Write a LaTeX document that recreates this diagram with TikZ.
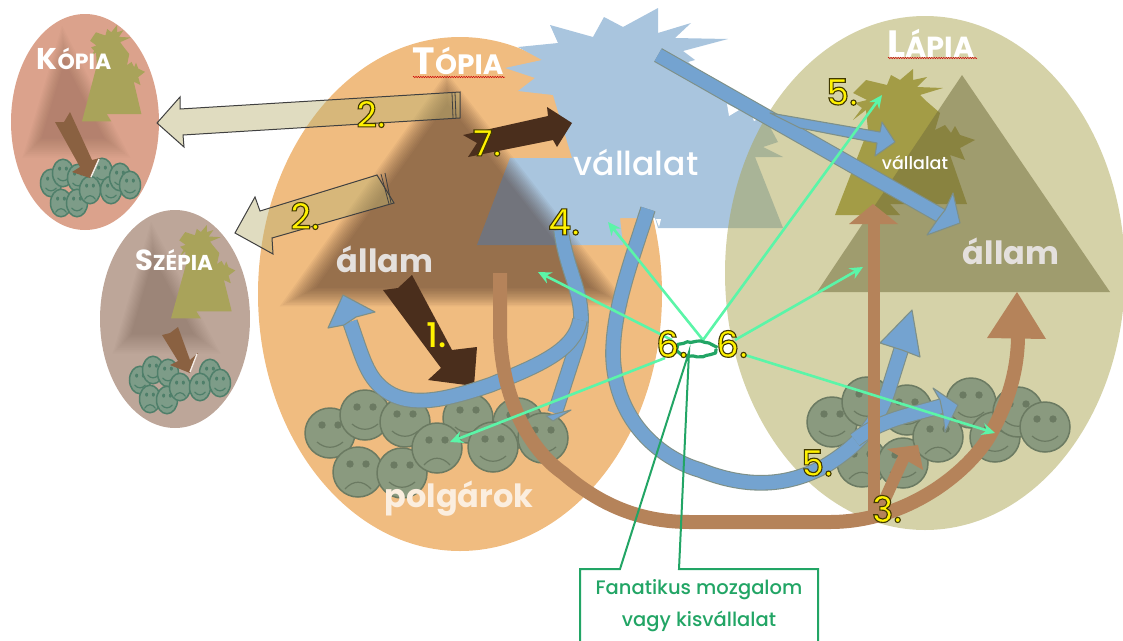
\documentclass[tikz,border=0pt]{standalone}
\usepackage{fontspec}
\setmainfont{Poppins}
\newfontfamily\pmed{Poppins Medium}
\usetikzlibrary{calc,arrows.meta,decorations.pathmorphing}
\definecolor{cOrange}{HTML}{F0BC80}
\definecolor{cKhaki}{HTML}{A9A34E}
\definecolor{cKop}{HTML}{DBA28C}
\definecolor{cSze}{HTML}{BDA699}
\definecolor{cBlue}{HTML}{A9C5DE}
\definecolor{cBand}{HTML}{74A3D0}
\definecolor{cBandE}{HTML}{7E9088}
\definecolor{cBrown}{HTML}{B5835A}
\definecolor{cDark}{HTML}{4A2E1C}
\definecolor{cSoft}{HTML}{442A20}
\definecolor{cOlive}{HTML}{A39C46}
\definecolor{cOliveS}{HTML}{A9A35A}
\definecolor{cState}{HTML}{736E3C}
\definecolor{cFace}{HTML}{8A9A7F}
\definecolor{cFaceE}{HTML}{6B7A62}
\definecolor{cFaceS}{HTML}{7D9C88}
\definecolor{cFaceSE}{HTML}{4F7F6A}
\definecolor{cTan}{HTML}{BAB273}
\definecolor{cGreen}{HTML}{5BF5A8}
\definecolor{cCall}{HTML}{22A565}
\newcommand{\fsz}[1]{\fontsize{#1}{#1}\selectfont}
\newcommand{\numlab}[1]{\special{pdf:code q 2 Tr 1.1 w 0.25 0.22 0 RG}#1\special{pdf:code Q}}
% x y xscale yscale fill edge mouth(1 smile / 0 sad)
\newcommand{\face}[7]{%
  \begin{scope}[shift={(#1,#2)},xscale=#3,yscale=#4]
    \fill[#5] (0,0) circle [radius=25];
    \draw[#6,line width=1.5pt] (0,0) circle [radius=25];
    \fill[#6] (-8,-8) circle [radius=3.7];
    \fill[#6] (8,-8) circle [radius=3.7];
    \ifnum#7=1
      \draw[#6,line width=1.2pt] (-13,9) .. controls (-5,16) and (5,16) .. (13,9);
    \else
      \draw[#6,line width=1.2pt] (-13,17) .. controls (-5,8) and (5,8) .. (13,17);
    \fi
  \end{scope}}
\newcommand{\bigface}[3]{\face{#1}{#2}{1}{1}{cFace}{cFaceE}{#3}}
\newcommand{\smallface}[3]{\face{#1}{#2}{.42}{.55}{cFaceS}{cFaceSE}{#3}}
% A B C incentre lo next hi opacity
\newcommand{\softtri}[8]{%
  \coordinate (tA) at #1; \coordinate (tB) at #2; \coordinate (tC) at #3; \coordinate (tI) at #4;
  \foreach \s in {#5,#6,...,#7}{\fill[cSoft,fill opacity=#8] ($(tI)!\s!(tA)$)--($(tI)!\s!(tB)$)--($(tI)!\s!(tC)$)--cycle;}}
\newcommand{\compshape}{(853,93)--(866,80)--(887,85)--(891,75)--(900,80)--(913,69)--(913,80)--(927,77)--(917,87)--(943,88)--(920,95)--(925,100)--(940,113)--(935,130)--(945,125)--(951,133)--(955,126)--(960,135)--(975,140)--(960,148)--(965,160)--(950,155)--(967,204)--(890,204)--(900,215)--(835,215)--(868,130)--(866,110)--(853,120)--(862,108)--(855,103)--(867,100)--cycle}
\tikzset{
  bandblue/.style={draw=cBandE,double=cBand,line width=1.1pt,double distance=13.5pt},
  headblue/.style={fill=cBand,draw=cBandE,line width=1.1pt,line join=round},
  bandbrown/.style={draw=cBrown,line width=14pt},
  headbrown/.style={fill=cBrown},
  tanarrow/.style={fill=cTan,fill opacity=.45,draw=black!75,draw opacity=1,line width=1pt},
  greenarrow/.style={draw=cGreen,line width=2.6pt,-{Stealth[length=13pt,width=12pt]}},
  title/.style={text=white,font=\bfseries},
  statetext/.style={text=white!85!cDark,font=\bfseries},
  squiggle/.style={draw=red!80!black,line width=.5pt,decorate,decoration={zigzag,segment length=2.4pt,amplitude=.7pt}},
  num/.style={text=yellow,inner sep=0pt,font=\pmed}
}
\begin{document}
\begin{tikzpicture}[x=1pt,y=-1pt]
\useasboundingbox (0,0) rectangle (1123,640);
% ---- countries
\fill[cOrange] (460,294) ellipse [x radius=202,y radius=257];
% ---- big company (blue)
\fill[cBlue] (518,47)--(558,43)--(550,25)--(593,37)--(604,17)--(623,27)--(658,8)--(658,33)--(691,23)--(675,38)--(728,39)--(683,51)--(695,60)--(688,62)--(725,92)--(770,127)--(778,142)--(763,147)--(783,157)--(755,157)--(783,228)--(658,228)--(655,218)--(620,218)--(623,245)--(477,245)--(510,158)--(572,158)--(553,95)--(518,91)--(535,78)--(505,68)--(542,60)--cycle;
\fill[white] (727,104)--(739,110)--(729,116)--cycle;
\fill[white] (752,116)--(760,118)--(754,121)--cycle;
\fill[white] (656,219)--(661,219)--(659,227)--cycle;
% ---- Lapia
\fill[cKhaki,fill opacity=.49] (925,273) ellipse [x radius=200,y radius=257];
% ---- small states
\fill[cKop] (85,122) ellipse [x radius=74,y radius=108];
\fill[cSze] (175,319) ellipse [x radius=75,y radius=109];
% ---- blurred state triangles
\softtri{(447,88)}{(298,297)}{(610,297)}{(450,219)}{0.88}{0.90}{1.12}{.052}
\begin{scope}
  \clip (85,122) ellipse [x radius=74,y radius=108];
  \softtri{(63,40)}{(30,150)}{(120,150)}{(68,112)}{0.70}{0.75}{1.25}{.025}
\end{scope}
\begin{scope}
  \clip (175,319) ellipse [x radius=75,y radius=109];
  \softtri{(152,236)}{(120,346)}{(210,346)}{(157,308)}{0.70}{0.75}{1.25}{.025}
\end{scope}
% ---- small companies
\begin{scope}[shift={(82,25)},xscale=.45,yscale=.66,shift={(-835,-69)}]
  \fill[cOliveS] \compshape;
\end{scope}
\begin{scope}[shift={(171,225)},xscale=.46,yscale=.64,shift={(-835,-69)}]
  \fill[cOliveS] \compshape;
\end{scope}
% ---- Lapia company + state
\fill[cOlive] \compshape;
\fill[cState,fill opacity=.54] (962,75)--(1110,292)--(817,292)--cycle;
% ---- small faces
\smallface{51}{183}{1}\smallface{63}{173}{1}\smallface{78}{178}{1}\smallface{102}{172}{1}
\smallface{61}{203}{0}\smallface{77}{203}{1}\smallface{90}{190}{0}\smallface{111}{190}{1}\smallface{120}{177}{1}\smallface{130}{185}{1}
\smallface{140}{380}{1}\smallface{153}{370}{1}\smallface{168}{373}{1}\smallface{150}{399}{0}\smallface{167}{400}{1}\smallface{180}{387}{0}\smallface{210}{373}{1}\smallface{200}{387}{1}\smallface{220}{383}{1}
% ---- small arrows
\fill[cBrown!60!cDark] (55,122)--(64,122)--(70,112)--(92,160)--(100,158)--(90,178)--(72,172)--(80,167)--cycle;
\draw[white!85!cBrown,line width=1.4pt] (99,159)--(91,177);
\fill[cBrown!60!cDark] (162,335)--(170,333)--(178,327)--(190,360)--(198,353)--(190,373)--(170,365)--(178,361)--cycle;
\draw[white!85!cBrown,line width=1.4pt] (197,354)--(190,372);
% ---- big faces Topia
\bigface{330}{433}{1}\bigface{365}{415}{1}\bigface{405}{422}{1}\bigface{358}{472}{0}\bigface{402}{473}{1}
\bigface{468}{418}{1}\bigface{518}{423}{1}\bigface{437}{448}{0}\bigface{493}{447}{1}\bigface{543}{438}{1}
% ---- big faces Lapia
\bigface{832}{422}{1}\bigface{867}{402}{1}\bigface{907}{410}{1}\bigface{862}{462}{0}\bigface{903}{463}{1}
\bigface{971}{403}{1}\bigface{995}{437}{1}\bigface{1018}{412}{1}\bigface{1045}{427}{1}\bigface{938}{437}{0}
% ---- dark arrows
\fill[cDark] (383,290)--(398,288)--(412,275)--(452,350)--(477,347)--(474,386)--(428,380)--(441,368)--cycle;
\fill[cDark] (463,135)--(477,143)--(468,157)--(553,140)--(557,147)--(572,123)--(547,107)--(548,116)--cycle;
% ---- blue bands
\draw[bandblue] (561,230) .. controls (568,280) and (590,300) .. (577,345) -- (555,413);
\fill[headblue] (571,410)--(546,416)--(553,421)--cycle;
\draw[bandblue] (580,320) .. controls (575,350) and (540,365) .. (490,385) .. controls (440,402) and (402,410) .. (377,383) .. controls (365,370) and (360,350) .. (350,322);
\fill[headblue] (343,295)--(375,312)--(356,317)--(344,325)--(328,328)--cycle;
\draw[bandblue] (648,209) .. controls (630,265) and (613,310) .. (613,355) .. controls (615,425) and (665,460) .. (700,470) .. controls (750,490) and (790,485) .. (825,466) .. controls (860,445) and (880,420) .. (890,385) -- (901,350);
\fill[headblue] (912,310)--(920,357)--(902,350)--(880,343)--cycle;
\draw[bandblue] (855,440) .. controls (880,420) and (910,415) .. (942,406);
\fill[headblue] (958,405)--(945,432)--(943,414)--(940,400)--(933,388)--cycle;
\draw[bandblue] (658,55) -- (945,218);
\fill[headblue] (960,223)--(927,235)--(938,219)--(945,210)--(953,193)--cycle;
\fill[cBand,draw=cBandE,line width=1.1pt,line join=round] (770,113)--(880,132)--(882,122)--(895,142)--(875,156)--(877,143)--(800,128)--cycle;
% ---- brown bands
\draw[cBrown,line width=12pt] (874,518) -- (874,222);
\fill[headbrown] (873,204)--(898,224)--(849,224)--cycle;
\draw[cBrown,line width=12pt] (880,510) -- (905,455);
\fill[headbrown] (918,445)--(923,470)--(887,449)--cycle;
\draw[bandbrown] (500,273) -- (500,333) .. controls (502,400) and (530,450) .. (563,473) .. controls (600,505) and (640,522) .. (690,522) -- (830,522) .. controls (900,522) and (960,480) .. (987,440) .. controls (1008,405) and (1018,370) .. (1018,335);
\fill[headbrown] (1017,292)--(1046,339)--(987,338)--cycle;
% ---- tan arrows
\path[tanarrow] (460,92)--(180,109)--(180,97)--(157,123)--(184,147)--(183,135)--(460,118)--cycle;
\draw[black!75,line width=.8pt] (452,93)--(453,118) (455,92.5)--(456,118);
\path[tanarrow] (377,175)--(260,211)--(255,197)--(235,233)--(273,254)--(272,238)--(394,203)--cycle;
\draw[black!75,line width=.8pt] (381,174)--(389,204) (385,173)--(391,203);
% ---- hub and green arrows
\coordinate (hub) at (703,340);
\coordinate (hubL) at (672,340);
\coordinate (hubLL) at (665,358);
\coordinate (hubR) at (735,340);
\coordinate (hubRR) at (745,355);
\draw[greenarrow] (hubLL) -- (450,442);
\draw[greenarrow] (hubL) -- (538,272);
\draw[greenarrow] (hub) -- (608,222);
\draw[greenarrow] (hub) -- (882,95);
\draw[greenarrow] (hubR) -- (863,267);
\draw[greenarrow] (hubRR) -- (995,433);
\draw[cCall,line width=3.2pt,line join=round,decorate,decoration={random steps,segment length=4pt,amplitude=.7pt}] (697,349) ellipse [x radius=19,y radius=7.5];
% ---- callout
\node[text=cCall,align=center,inner sep=0pt,anchor=center] (callout) at (699,606) {\pmed\fsz{19.5}Fanatikus mozgalom\\[10pt]\pmed\fsz{19.5}vagy kisvállalat};
\draw[cCall,line width=2pt,line join=miter] (580,641)--(580,569)--(620,569)--(689,352)--(679,569)--(818,569)--(818,641);
% ---- texts
\node[title,inner sep=0pt] (tkop) at (74,59) {\fsz{30}K\fsz{22}ÓPIA};
\node[title,inner sep=0pt] (tsze) at (174,260) {\fsz{29}S\fsz{21.5}ZÉPIA};
\node[title,inner sep=0pt] (ttop) at (458,61) {\fsz{38}T\fsz{28}ÓPIA};
\node[title,inner sep=0pt] (tlap) at (931,43) {\fsz{38}L\fsz{29}ÁPIA};
\draw[squiggle] (413,77)--(505,77);
\draw[squiggle] (888,58)--(977,58);
\node[statetext,inner sep=0pt] (a1) at (385,259) {\fsz{32}állam};
\node[statetext,inner sep=0pt] (a2) at (1011,251) {\fsz{32}állam};
\node[text=white,font=\pmed,inner sep=0pt] (v1) at (636,163) {\fsz{33}vállalat};
\node[text=white,font=\pmed,inner sep=0pt] (v2) at (915,163) {\fsz{17.5}vállalat};
\node[text=cOrange!25!white,font=\bfseries,inner sep=0pt] (pol) at (459,499) {\fsz{32}polgárok};
% ---- numbers
\node[num] (n1) at (437,335) {\fsz{34}1.};
\node[num] (n2a) at (371,114) {\fsz{36}\numlab{2.}};
\node[num] (n2b) at (305,216) {\fsz{36}\numlab{2.}};
\node[num] (n3) at (887,509) {\fsz{36}\numlab{3.}};
\node[num] (n4) at (564,222) {\fsz{36}\numlab{4.}};
\node[num] (n5a) at (842,92) {\fsz{36}\numlab{5.}};
\node[num] (n5b) at (817,463) {\fsz{36}\numlab{5.}};
\node[num] (n6a) at (672,344) {\fsz{36}\numlab{6.}};
\node[num] (n6b) at (732,344) {\fsz{36}\numlab{6.}};
\node[num] (n7) at (487,143) {\fsz{36}\numlab{7.}};
\end{tikzpicture}
\end{document}
